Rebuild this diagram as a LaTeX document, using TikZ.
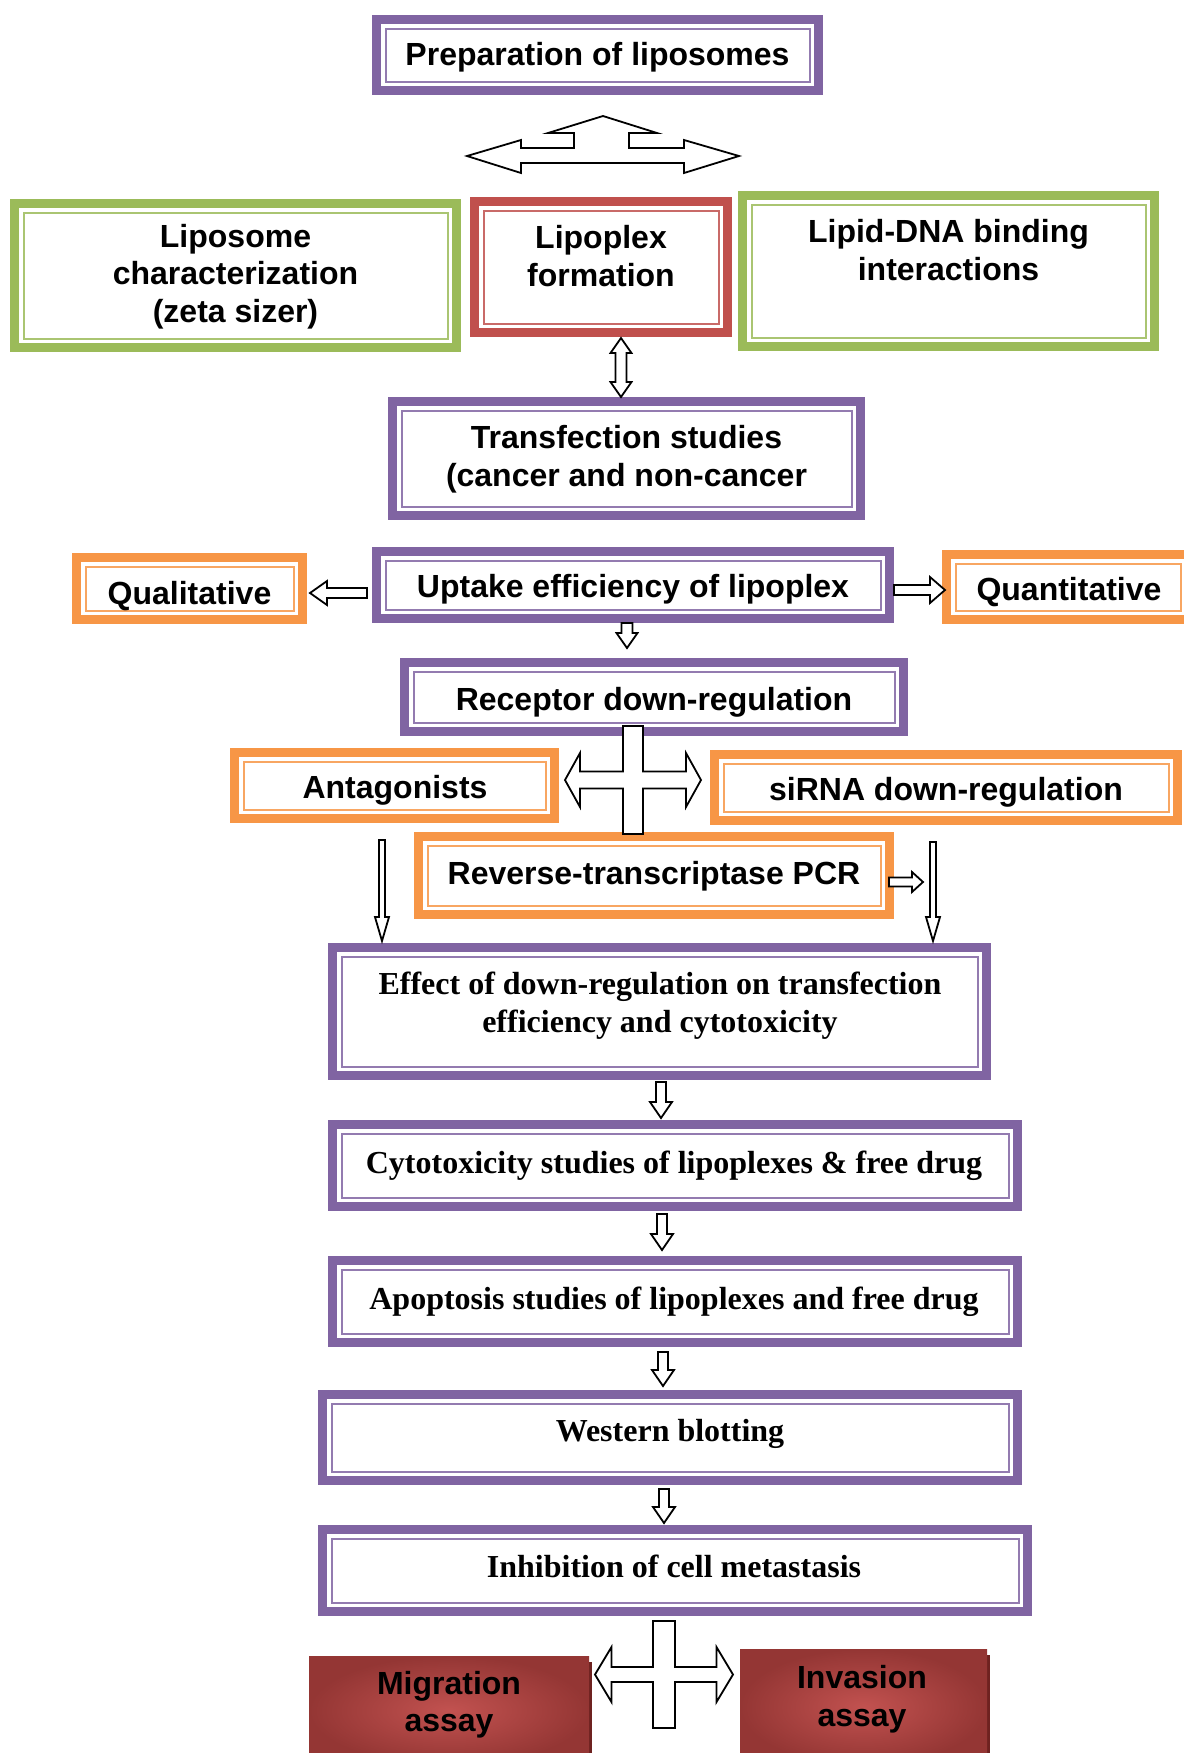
\documentclass[tikz,border=0pt]{standalone}
\usepackage{fontspec}
\setmainfont{Liberation Serif}
\setsansfont{Liberation Sans}
\usetikzlibrary{calc,shadows}
\definecolor{purp}{HTML}{8064A2}
\definecolor{grn}{HTML}{9BBB59}
\definecolor{redb}{HTML}{C0504D}
\definecolor{orng}{HTML}{F79646}
\definecolor{dred}{HTML}{943634}
\definecolor{lred}{HTML}{C25250}
\definecolor{shd}{HTML}{6E2220}
\newcommand\sfbig{\sffamily\bfseries\fontsize{16pt}{18.75pt}\selectfont}
\newcommand\rmbig{\rmfamily\bfseries\fontsize{16pt}{19pt}\selectfont}
% block arrow with one head: #1 start, #2 tip, #3 shaft half width, #4 head half width, #5 head length
\newcommand\BArrow[5]{%
  \coordinate (tmpC) at ($(#2)!#5!(#1)$);
  \draw[blk] ($(#1)!#3!90:(#2)$) -- ($(tmpC)!#3!90:(#2)$) -- ($(tmpC)!#4!90:(#2)$) -- (#2)
    -- ($(tmpC)!#4!-90:(#2)$) -- ($(tmpC)!#3!-90:(#2)$) -- ($(#1)!#3!-90:(#2)$) -- cycle;}
% block arrow with two heads
\newcommand\BArrowTwo[5]{%
  \coordinate (tmpC) at ($(#2)!#5!(#1)$);
  \coordinate (tmpD) at ($(#1)!#5!(#2)$);
  \draw[blk] (#1) -- ($(tmpD)!#4!-90:(#2)$) -- ($(tmpD)!#3!-90:(#2)$) -- ($(tmpC)!#3!-90:(#2)$)
    -- ($(tmpC)!#4!-90:(#2)$) -- (#2) -- ($(tmpC)!#4!90:(#2)$) -- ($(tmpC)!#3!90:(#2)$)
    -- ($(tmpD)!#3!90:(#2)$) -- ($(tmpD)!#4!90:(#2)$) -- cycle;}
\tikzset{
  dbox/.style={rectangle, draw=#1, line width=4.5pt, fill=white, inner sep=0pt,
    path picture={\draw[#1!85!white, line width=1pt]
      ([shift={(4.5pt,4.5pt)}]path picture bounding box.south west) rectangle
      ([shift={(-4.5pt,-4.5pt)}]path picture bounding box.north east);}},
  txt/.style={align=center, inner sep=0pt, text=black, font=\sfbig},
  rtxt/.style={align=center, inner sep=0pt, text=black, font=\rmbig},
  blk/.style={draw=black, fill=white, line width=0.9pt, line join=miter},
  assay/.style={rectangle, inner sep=0pt, draw=none, inner color=lred, outer color=dred,
    general shadow={fill=shd, shadow xshift=1.5pt, shadow yshift=-3pt}}
}
\begin{document}
\begin{tikzpicture}[x=0.5pt, y=-0.5pt]
\useasboundingbox (0,0) rectangle (1184,1753);
\clip (0,0) rectangle (1184,1753);
\fill[white] (0,0) rectangle (1184,1753);

% ---------- boxes ----------
\node[dbox=purp, minimum width=221pt,   minimum height=35.5pt] (prep)     at (597.5,55)    {};
\node[dbox=grn,  minimum width=221pt,   minimum height=72pt]   (lipchar)  at (235.5,275.5) {};
\node[dbox=redb, minimum width=126.5pt, minimum height=65.5pt] (lipoplex) at (601,267)     {};
\node[dbox=grn,  minimum width=206pt,   minimum height=75.5pt] (lipdna)   at (948.5,271)   {};
\node[dbox=purp, minimum width=234pt,   minimum height=57pt]   (transf)   at (626.5,458.5) {};
\node[dbox=purp, minimum width=256.5pt, minimum height=33.5pt] (uptake)   at (633,585)     {};
\node[dbox=orng, minimum width=113pt,   minimum height=31pt]   (qual)     at (189.5,588.5) {};
\node[dbox=orng, minimum width=121.5pt, minimum height=32.5pt] (quant)    at (1068,587)    {};
\node[dbox=purp, minimum width=249.5pt, minimum height=34.5pt] (recep)    at (654,697)     {};
\node[dbox=orng, minimum width=160pt,   minimum height=33pt]   (antag)    at (394.5,785.5) {};
\node[dbox=orng, minimum width=231.5pt, minimum height=33pt]   (sirna)    at (946,787.5)   {};
\node[dbox=orng, minimum width=235.5pt, minimum height=39pt]   (rtpcr)    at (654,875.5)   {};
\node[dbox=purp, minimum width=327pt,   minimum height=64pt]   (effect)   at (659.5,1011.5){};
\node[dbox=purp, minimum width=342.5pt, minimum height=41pt]   (cyto)     at (675,1165.5)  {};
\node[dbox=purp, minimum width=342.5pt, minimum height=41pt]   (apop)     at (675,1301.5)  {};
\node[dbox=purp, minimum width=347.5pt, minimum height=43pt]   (western)  at (670,1437.5)  {};
\node[dbox=purp, minimum width=352.5pt, minimum height=41pt]   (inhib)    at (675,1570.5)  {};
\node[assay, minimum width=140pt,   minimum height=54.5pt] (mig) at (449,1710.5) {};
\node[assay, minimum width=123.5pt, minimum height=58pt]   (inv) at (863.5,1707)  {};

% ---------- texts ----------
\node[txt] (prepT)     at (597.5,58)  {\strut Preparation of liposomes};
\node[txt] (lipcharT)  at (235.5,277) {\strut Liposome\\\strut characterization\\\strut (zeta sizer)};
\node[txt] (lipoplexT) at (601,260)   {\strut Lipoplex\\\strut formation};
\node[txt] (lipdnaT)   at (948.5,254) {\strut Lipid-DNA binding\\\strut interactions};
\node[txt] (transfT)   at (626.5,460) {\strut Transfection studies\\\strut (cancer and non-cancer};
\node[txt] (uptakeT)   at (633,590)   {\strut Uptake efficiency of lipoplex};
\node[txt] (qualT)     at (189.5,597) {\strut Qualitative};
\node[txt] (quantT)    at (1069,593)  {\strut Quantitative};
\node[txt] (recepT)    at (654,703)   {\strut Receptor down-regulation};
\node[txt] (antagT)    at (395,791)   {\strut Antagonists};
\node[txt] (sirnaT)    at (946,793)   {\strut siRNA down-regulation};
\node[txt] (rtpcrT)    at (654,877)   {\strut Reverse-transcriptase PCR};
\node[rtxt] (effectT)  at (660,1006)  {\strut Effect of down-regulation on transfection\\\strut efficiency and cytotoxicity};
\node[rtxt] (cytoT)    at (674,1166)  {\strut Cytotoxicity studies of lipoplexes \& free drug};
\node[rtxt] (apopT)    at (674,1302)  {\strut Apoptosis studies of lipoplexes and free drug};
\node[rtxt] (westernT) at (670,1434)  {\strut Western blotting};
\node[rtxt] (inhibT)   at (674,1570)  {\strut Inhibition of cell metastasis};
\node[txt] (migT) at (449,1705.5) {\strut Migration\\\strut assay};
\node[txt] (invT) at (862,1700)   {\strut Invasion\\\strut assay};

% ---------- three-way arrow under "Preparation of liposomes" ----------
\coordinate (tri) at (603,156);
\draw[blk, shift={(tri)}] (0,-40) -- (54,-23) -- (26,-23) -- (26,-8) -- (81,-8) -- (81,-16)
  -- (136,0) -- (81,17) -- (81,7) -- (-82,7) -- (-82,17) -- (-136,0) -- (-82,-16) -- (-82,-8)
  -- (-29,-8) -- (-29,-23) -- (-55,-23) -- cycle;

% ---------- connectors ----------
\coordinate (a1s) at (621,338);  \coordinate (a1e) at (621,397);
\BArrowTwo{a1s}{a1e}{2.75pt}{5.25pt}{7.5pt}
\coordinate (a2s) at (367,593);  \coordinate (a2e) at (310,593);
\BArrow{a2s}{a2e}{2.5pt}{6pt}{8.5pt}
\coordinate (a3s) at (894,590);  \coordinate (a3e) at (945,590);
\BArrow{a3s}{a3e}{2.5pt}{6.5pt}{7.5pt}
\coordinate (a4s) at (627,623);  \coordinate (a4e) at (627,648);
\BArrow{a4s}{a4e}{2.75pt}{5.25pt}{7.5pt}
\coordinate (a5s) at (889,882);  \coordinate (a5e) at (923,882);
\BArrow{a5s}{a5e}{2.25pt}{5pt}{5.5pt}
\coordinate (a6s) at (382,840);  \coordinate (a6e) at (382,941);
\BArrow{a6s}{a6e}{1.5pt}{3.5pt}{12pt}
\coordinate (a7s) at (933,842);  \coordinate (a7e) at (933,941);
\BArrow{a7s}{a7e}{1.5pt}{3.5pt}{12pt}
\coordinate (a8s) at (661,1082); \coordinate (a8e) at (661,1118);
\BArrow{a8s}{a8e}{2.5pt}{5.5pt}{8pt}
\coordinate (a9s) at (662,1214); \coordinate (a9e) at (662,1250);
\BArrow{a9s}{a9e}{2.5pt}{5.5pt}{8pt}
\coordinate (a10s) at (663,1352); \coordinate (a10e) at (663,1386);
\BArrow{a10s}{a10e}{2.5pt}{5.5pt}{8pt}
\coordinate (a11s) at (664,1489); \coordinate (a11e) at (664,1523);
\BArrow{a11s}{a11e}{2.5pt}{5.5pt}{8pt}

% ---------- four-way arrows ----------
\coordinate (crossA) at (633,780);
\draw[blk, shift={(crossA)}] (-10,-54) -- (10,-54) -- (10,-8.5) -- (53,-8.5) -- (53,-27) -- (68,0)
  -- (53,27) -- (53,8.5) -- (10,8.5) -- (10,54) -- (-10,54) -- (-10,8.5) -- (-53,8.5) -- (-53,27)
  -- (-68,0) -- (-53,-27) -- (-53,-8.5) -- (-10,-8.5) -- cycle;
\coordinate (crossB) at (664,1674.5);
\draw[blk, shift={(crossB)}] (-11,-53.5) -- (11,-53.5) -- (11,-7.5) -- (52.5,-7.5) -- (52.5,-27.5) -- (69,0)
  -- (52.5,27.5) -- (52.5,7.5) -- (11,7.5) -- (11,53.5) -- (-11,53.5) -- (-11,7.5) -- (-52.5,7.5) -- (-52.5,27.5)
  -- (-69,0) -- (-52.5,-27.5) -- (-52.5,-7.5) -- (-11,-7.5) -- cycle;
\end{tikzpicture}
\end{document}
